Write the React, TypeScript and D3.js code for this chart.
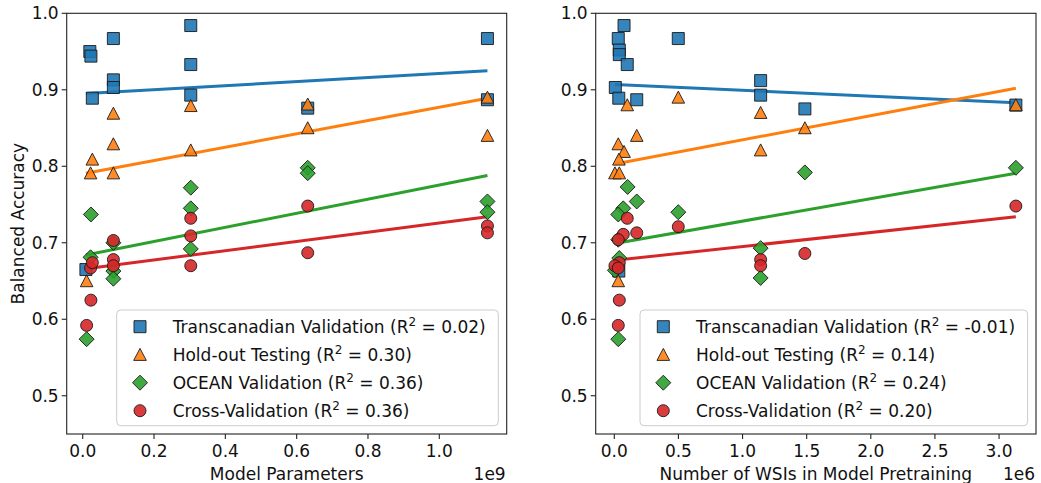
import React, { useEffect, useRef } from "react";
import * as d3 from "d3";

// series shared by both panels
const seriesNames = ["Transcanadian Validation", "Hold-out Testing", "OCEAN Validation", "Cross-Validation"];
const seriesColors = ["#1f77b4", "#ff7f0e", "#2ca02c", "#d62728"];
const seriesShapes = ["square", "triangle", "diamond", "circle"];

// left panel: model parameters (x 1e9) vs balanced accuracy
const leftTransX = [0.009, 0.020, 0.023, 0.027, 0.086, 0.086, 0.086, 0.303, 0.303, 0.303, 0.631, 1.135, 1.135];
const leftTransY = [0.665, 0.950, 0.944, 0.889, 0.967, 0.913, 0.903, 0.984, 0.933, 0.893, 0.876, 0.967, 0.887];
const leftHoldX = [0.011, 0.022, 0.027, 0.086, 0.086, 0.086, 0.303, 0.303, 0.631, 0.631, 1.135, 1.135];
const leftHoldY = [0.650, 0.791, 0.809, 0.869, 0.829, 0.791, 0.879, 0.821, 0.881, 0.850, 0.890, 0.840];
const leftOceanX = [0.011, 0.023, 0.022, 0.086, 0.086, 0.086, 0.303, 0.303, 0.303, 0.631, 0.631, 1.135, 1.135];
const leftOceanY = [0.574, 0.737, 0.681, 0.700, 0.663, 0.653, 0.772, 0.745, 0.692, 0.798, 0.791, 0.754, 0.740];
const leftCvX = [0.011, 0.023, 0.022, 0.027, 0.086, 0.086, 0.086, 0.303, 0.303, 0.303, 0.631, 0.631, 1.135, 1.135];
const leftCvY = [0.592, 0.625, 0.667, 0.674, 0.703, 0.678, 0.670, 0.732, 0.709, 0.670, 0.748, 0.687, 0.722, 0.713];
const leftFitX = [0.009, 1.135];
const leftFitStart = [0.895, 0.791, 0.684, 0.666];
const leftFitEnd = [0.925, 0.889, 0.788, 0.734];
const leftR2 = ["0.02", "0.30", "0.36", "0.36"];

// right panel: number of WSIs in pretraining (x 1e6)
const rightTransX = [0.076, 0.031, 0.499, 0.039, 0.039, 0.101, 0.008, 0.035, 0.175, 1.141, 1.141, 1.486, 3.131, 0.035];
const rightTransY = [0.984, 0.967, 0.967, 0.952, 0.946, 0.933, 0.903, 0.889, 0.887, 0.912, 0.893, 0.875, 0.880, 0.663];
const rightHoldX = [0.101, 0.499, 0.175, 0.031, 0.076, 0.036, 0.005, 0.039, 1.141, 1.486, 1.141, 3.131, 0.031];
const rightHoldY = [0.880, 0.890, 0.840, 0.829, 0.819, 0.809, 0.791, 0.791, 0.870, 0.850, 0.821, 0.880, 0.650];
const rightOceanX = [0.104, 0.175, 0.070, 0.031, 0.499, 0.031, 0.039, 0.005, 0.031, 1.486, 3.131, 1.141, 1.141];
const rightOceanY = [0.773, 0.754, 0.745, 0.737, 0.740, 0.704, 0.680, 0.664, 0.574, 0.792, 0.798, 0.693, 0.654];
const rightCvX = [0.101, 0.175, 0.070, 0.031, 0.499, 0.039, 0.005, 0.031, 0.039, 0.031, 1.141, 1.141, 1.486, 3.131];
const rightCvY = [0.732, 0.713, 0.711, 0.704, 0.721, 0.674, 0.670, 0.667, 0.625, 0.592, 0.678, 0.670, 0.686, 0.748];
const rightFitX = [0.005, 3.131];
const rightFitStart = [0.907, 0.803, 0.699, 0.677];
const rightFitEnd = [0.883, 0.902, 0.791, 0.734];
const rightR2 = ["-0.01", "0.14", "0.24", "0.20"];

const yTicks = [0.5, 0.6, 0.7, 0.8, 0.9, 1.0];
const leftTicks = [0.0, 0.2, 0.4, 0.6, 0.8, 1.0];
const rightTicks = [0.0, 0.5, 1.0, 1.5, 2.0, 2.5, 3.0];

const FONT = "'DejaVu Sans', sans-serif";

function marker(shape: string) {
  const p = d3.path();
  if (shape === "square") {
    p.rect(-6, -6, 12, 12);
  } else if (shape === "triangle") {
    p.moveTo(0, -6.3); p.lineTo(6.3, 5.7); p.lineTo(-6.3, 5.7); p.closePath();
  } else if (shape === "diamond") {
    p.moveTo(0, -7.5); p.lineTo(7.5, 0); p.lineTo(0, 7.5); p.lineTo(-7.5, 0); p.closePath();
  } else {
    p.arc(0, 0, 6, 0, 2 * Math.PI);
  }
  return p.toString();
}

export default function App() {
  const svgRef = useRef<SVGSVGElement>(null);

  useEffect(() => {
    const svg = d3.select(svgRef.current);
    svg.selectAll("*").remove();

    const top = 13.3, bottom = 434;
    const y = d3.scaleLinear().domain([0.45, 1.0]).range([bottom, top]);

    const panels = [
      {
        left: 66.7, right: 506.7, domain: [-0.0449, 1.189], ticks: leftTicks,
        label: "Model Parameters", offset: "1e9",
        xs: [leftTransX, leftHoldX, leftOceanX, leftCvX], ys: [leftTransY, leftHoldY, leftOceanY, leftCvY],
        fitX: leftFitX, fitStart: leftFitStart, fitEnd: leftFitEnd, r2: leftR2, yLabel: true,
        legendLeft: 116.7,
      },
      {
        left: 595.7, right: 1036, domain: [-0.145, 3.288], ticks: rightTicks,
        label: "Number of WSIs in Model Pretraining", offset: "1e6",
        xs: [rightTransX, rightHoldX, rightOceanX, rightCvX], ys: [rightTransY, rightHoldY, rightOceanY, rightCvY],
        fitX: rightFitX, fitStart: rightFitStart, fitEnd: rightFitEnd, r2: rightR2, yLabel: false,
        legendLeft: 640,
      },
    ];

    panels.forEach((pn) => {
      const x = d3.scaleLinear().domain(pn.domain).range([pn.left, pn.right]);
      const g = svg.append("g");

      // regression lines
      seriesNames.forEach((_, i) => {
        const pts: [number, number][] = [[pn.fitX[0], pn.fitStart[i]], [pn.fitX[1], pn.fitEnd[i]]];
        g.append("path")
          .attr("d", d3.line<[number, number]>().x(d => x(d[0])).y(d => y(d[1]))(pts))
          .attr("stroke", seriesColors[i])
          .attr("stroke-width", 3)
          .attr("fill", "none");
      });

      // scatter
      seriesNames.forEach((_, i) => {
        const pts = pn.xs[i].map((v, k) => [v, pn.ys[i][k]]);
        g.selectAll(`.s${i}`)
          .data(pts)
          .join("path")
          .attr("class", `s${i}`)
          .attr("d", marker(seriesShapes[i]))
          .attr("transform", d => `translate(${x(d[0])},${y(d[1])})`)
          .attr("fill", seriesColors[i])
          .attr("fill-opacity", 0.9)
          .attr("stroke", "#1a1a1a")
          .attr("stroke-width", 0.9);
      });

      // frame
      g.append("rect")
        .attr("x", pn.left).attr("y", top)
        .attr("width", pn.right - pn.left).attr("height", bottom - top)
        .attr("fill", "none").attr("stroke", "#222").attr("stroke-width", 1.1);

      // x ticks
      pn.ticks.forEach((t) => {
        g.append("line")
          .attr("x1", x(t)).attr("x2", x(t)).attr("y1", bottom).attr("y2", bottom + 5)
          .attr("stroke", "#222").attr("stroke-width", 1.1);
        g.append("text")
          .attr("x", x(t)).attr("y", 457)
          .attr("text-anchor", "middle")
          .attr("font-family", FONT).attr("font-size", 17).attr("fill", "#111")
          .text(d3.format(".1f")(t));
      });
      g.append("text")
        .attr("x", (pn.left + pn.right) / 2).attr("y", 480)
        .attr("text-anchor", "middle")
        .attr("font-family", FONT).attr("font-size", 17).attr("fill", "#111")
        .text(pn.label);
      g.append("text")
        .attr("x", pn.right - 1).attr("y", 480)
        .attr("text-anchor", "end")
        .attr("font-family", FONT).attr("font-size", 17).attr("fill", "#111")
        .text(pn.offset);

      // y ticks
      yTicks.forEach((t) => {
        g.append("line")
          .attr("x1", pn.left - 5).attr("x2", pn.left).attr("y1", y(t)).attr("y2", y(t))
          .attr("stroke", "#222").attr("stroke-width", 1.1);
        g.append("text")
          .attr("x", pn.left - 8).attr("y", y(t) + 6)
          .attr("text-anchor", "end")
          .attr("font-family", FONT).attr("font-size", 17).attr("fill", "#111")
          .text(d3.format(".1f")(t));
      });
      if (pn.yLabel) {
        g.append("text")
          .attr("transform", `translate(24,${(top + bottom) / 2}) rotate(-90)`)
          .attr("text-anchor", "middle")
          .attr("font-family", FONT).attr("font-size", 17).attr("fill", "#111")
          .text("Balanced Accuracy");
      }

      // legend
      const lx = pn.legendLeft, ly = 310, lw = pn.right - 8.4 - lx, lh = 115.7;
      g.append("rect")
        .attr("x", lx).attr("y", ly).attr("width", lw).attr("height", lh)
        .attr("rx", 4).attr("fill", "white").attr("fill-opacity", 0.8)
        .attr("stroke", "#cccccc").attr("stroke-width", 1);
      seriesNames.forEach((name, i) => {
        const cy = ly + 16.7 + i * 28;
        g.append("path")
          .attr("d", marker(seriesShapes[i]))
          .attr("transform", `translate(${lx + 23.3},${cy})`)
          .attr("fill", seriesColors[i]).attr("fill-opacity", 0.9)
          .attr("stroke", "#1a1a1a").attr("stroke-width", 0.9);
        const txt = g.append("text")
          .attr("x", lx + 56).attr("y", cy + 6)
          .attr("font-family", FONT).attr("font-size", 17).attr("fill", "#111");
        txt.append("tspan").text(`${name} (R`);
        txt.append("tspan").attr("dy", -7).attr("font-size", 12).text("2");
        txt.append("tspan").attr("dy", 7).text(` = ${pn.r2[i]})`);
      });
    });
  }, []);

  return (
    <svg
      ref={svgRef}
      width={1041}
      height={483}
      style={{ position: "absolute", left: 0, top: 0, background: "white" }}
    />
  );
}
